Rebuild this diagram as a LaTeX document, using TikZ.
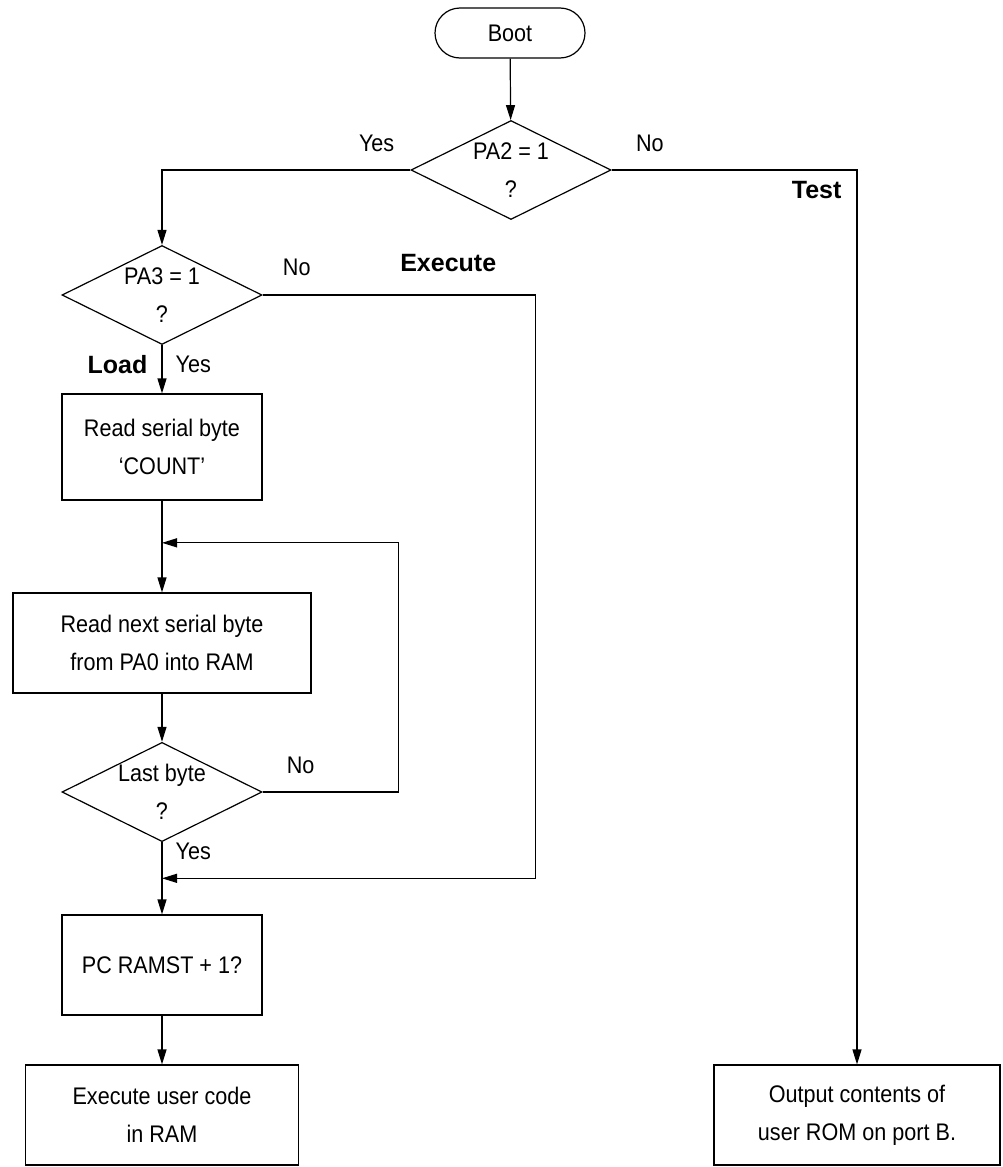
\documentclass[tikz,border=0pt]{standalone}
\usepackage{fontspec}
\setmainfont{Liberation Sans}[FakeStretch=0.9]
\newfontfamily\tagfont{Liberation Sans}
\usetikzlibrary{shapes.geometric,arrows.meta,positioning,calc}

\begin{document}
\begin{tikzpicture}[x=1pt,y=-1pt,
    every node/.style = {font=\fontsize{24}{38}\selectfont},
    box/.style = {draw, rectangle, minimum width=200pt, minimum height=100pt, align=center},
    dec/.style = {draw, diamond, aspect=2, minimum width=200pt, minimum height=99pt, inner sep=0pt, align=center},
    term/.style = {draw, rectangle, rounded corners=25pt, minimum width=150pt, minimum height=50pt},
    lbl/.style = {inner sep=0pt},
    tag/.style = {inner sep=0pt, font=\tagfont\bfseries\fontsize{25}{30}\selectfont},
    >={Triangle[length=15pt,width=9pt]}, line width=1.2pt]
        \useasboundingbox (0,0) rectangle (1002,1167);
        \node[term] (boot) at (510,33) {Boot};
        \node[dec] (pa2) at (511,170) {PA2 = 1\\?};
        \node[dec] (pa3) at (162,295) {PA3 = 1\\?};
        \node[box, minimum height=106pt] (count) [below of=pa3, node distance=152pt] {Read serial byte\\‘COUNT’};
        \node[box, minimum width=298pt] (next) [below of=count, node distance=196pt] {Read next serial byte\\from PA0 into RAM};
        \node[dec] (last) [below of=next, node distance=149pt] {Last byte\\?};
        \node[box] (pc) [below of=last, node distance=173pt] {PC RAMST + 1?};
        \node[box, minimum width=273pt] (exec) [below of=pc, node distance=150pt] {Execute user code\\in RAM};
        \node[box, minimum width=286pt] (out) at (857,1115) {Output contents of\\user ROM on port B.};
        \coordinate (join1) at ($(count.south)!0.46!(next.north)$);
        \coordinate (join2) at ($(last.south)!0.5!(pc.north)$);
        \draw[->] (boot) -- (pa2);
        \draw[->] (pa2.west) -| node[lbl, pos=0.068, above=18pt] (yes1) {Yes} (pa3.north);
        \draw[->] (pa2.east) -| node[lbl, pos=0.078, above=18pt] (no1) {No}
            node[tag, pos=0.5, below left=11pt and 15pt] (test) {Test} (out.north);
        \draw[->] (pa3.south) -- node[tag, pos=0.4, left=14pt] (load) {Load}
            node[lbl, pos=0.4, right=13pt] (yes2) {Yes} (count.north);
        \draw[->] (count) -- (next);
        \draw[->] (next) -- (last);
        \draw[->] (last.south) -- node[lbl, pos=0.12, right=13pt] (yes3) {Yes} (pc.north);
        \draw[->] (pc) -- (exec);
        \draw[->] (pa3.east) -- node[lbl, pos=0.125, above=19pt] (no2) {No}
            node[tag, pos=0.68, above=23pt] (execute) {Execute} ++(273,0) |- (join2);
        \draw[->] (last.east) -- node[lbl, pos=0.28, above=18pt] (no3) {No} ++(136,0) |- (join1);
\end{tikzpicture}
\end{document}
